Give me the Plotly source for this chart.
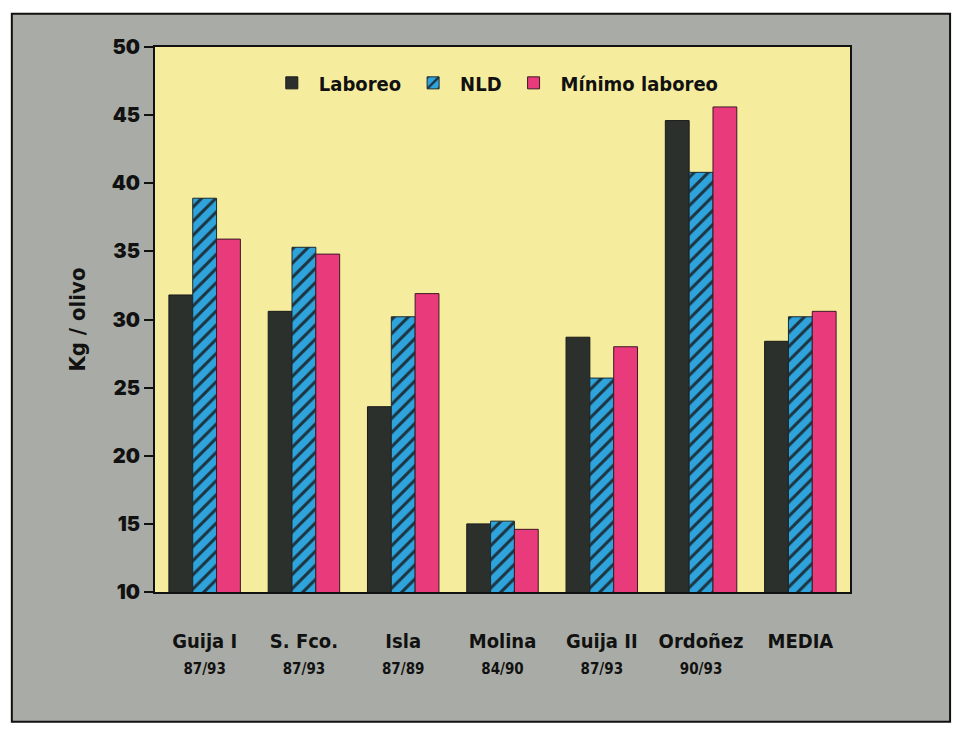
import plotly.graph_objects as go

# Olive yield per tree (kg) by plot and tillage system
sites = ["Guija I", "S. Fco.", "Isla", "Molina", "Guija II", "Ordoñez", "MEDIA"]
periods = ["87/93", "87/93", "87/89", "84/90", "87/93", "90/93", ""]

laboreo = [31.8, 30.6, 23.6, 15.0, 28.7, 44.6, 28.4]
nld = [38.9, 35.3, 30.2, 15.2, 25.7, 40.8, 30.2]
minimo = [35.9, 34.8, 31.9, 14.6, 28.0, 45.6, 30.6]

y_ticks = [10, 15, 20, 25, 30, 35, 40, 45, 50]

tick_text = [
    f"{s}<br><span style='font-size:15px'>{p}</span>" if p else f"{s}<br> "
    for s, p in zip(sites, periods)
]

narrow = "DejaVu Sans Condensed, Liberation Sans Narrow, Liberation Sans, Arial, sans-serif"
heavy = "Inter, Liberation Sans, Arial, sans-serif"

fig = go.Figure()
fig.add_bar(
    name="Laboreo", x=sites, y=laboreo,
    marker=dict(color="#2c302d", line=dict(color="#1a1a1a", width=1)),
)
fig.add_bar(
    name="NLD", x=sites, y=nld,
    marker=dict(
        color="#2fa4dc",
        line=dict(color="#1a2a30", width=1),
        pattern=dict(shape="/", fgcolor="#1d3440", bgcolor="#2fa4dc",
                     size=10, solidity=0.3, fillmode="replace"),
    ),
)
fig.add_bar(
    name="Mínimo laboreo", x=sites, y=minimo,
    marker=dict(color="#e93b7c", line=dict(color="#3a1a25", width=1)),
)

# grey card behind the chart and the pale-yellow plotting field
fig.add_shape(type="rect", xref="paper", yref="paper",
              x0=-0.206, x1=1.144, y0=-0.238, y1=1.061,
              fillcolor="#a9aca6", line=dict(color="#111", width=2),
              layer="below")
fig.add_shape(type="rect", xref="paper", yref="paper",
              x0=0, x1=1, y0=0, y1=1,
              fillcolor="#f6ec9e", line=dict(width=0),
              layer="below")

fig.update_layout(
    width=957, height=738,
    margin=dict(l=155, r=107, t=47, b=146),
    paper_bgcolor="white",
    plot_bgcolor="rgba(0,0,0,0)",
    barmode="group",
    bargap=0.28,
    bargroupgap=0,
    showlegend=True,
    legend=dict(
        orientation="h", x=0.158, y=0.97, xanchor="left", yanchor="top",
        bgcolor="rgba(0,0,0,0)",
        font=dict(family=narrow, size=20, color="#111", weight="bold"),
        itemwidth=44,
    ),
    font=dict(family=narrow, color="#111"),
)

fig.update_yaxes(
    range=[10, 50], tickvals=y_ticks,
    ticks="outside", ticklen=9, tickwidth=2, tickcolor="#111",
    showgrid=False, zeroline=False,
    showline=True, linecolor="#111", linewidth=2, mirror=True,
    tickfont=dict(family=heavy, size=20, color="#111", weight=900),
    title=dict(text="Kg / olivo", standoff=20,
               font=dict(family=narrow, size=22, color="#111", weight="bold")),
)
fig.update_xaxes(
    tickvals=sites, ticktext=tick_text,
    ticks="", showgrid=False,
    showline=True, linecolor="#111", linewidth=2, mirror=True,
    ticklabelstandoff=30,
    tickfont=dict(family=narrow, size=20, color="#111", weight="bold"),
)

fig.write_html("out.html")
